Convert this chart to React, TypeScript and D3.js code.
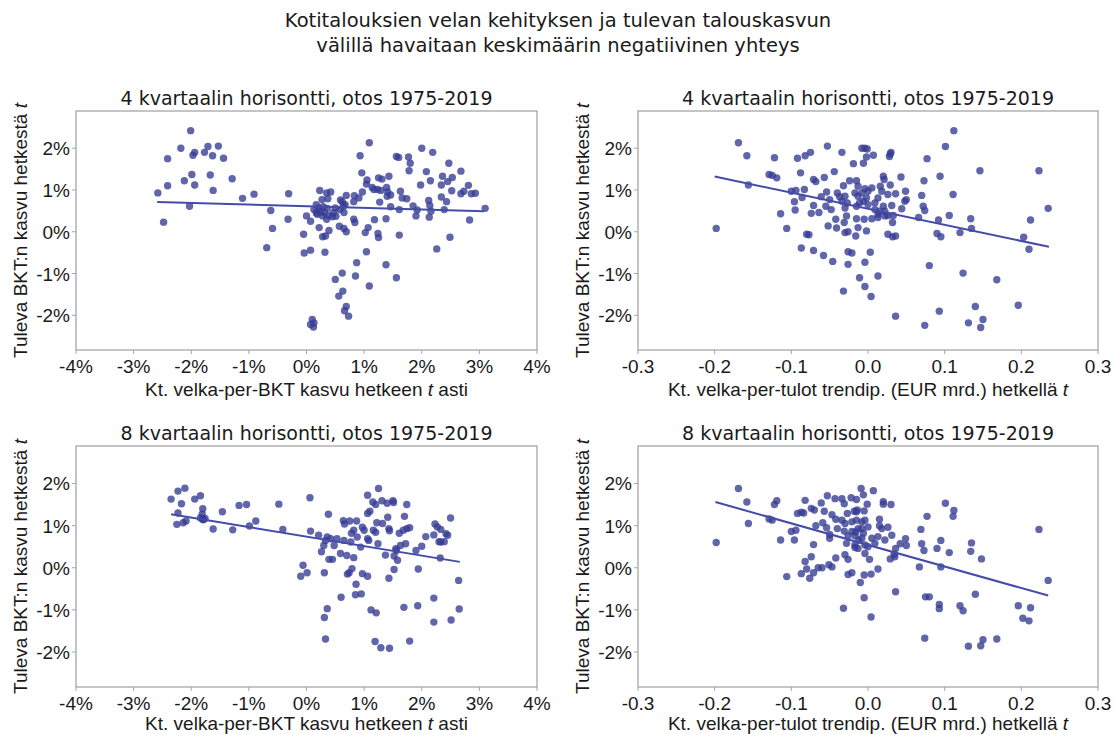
import React from "react";
import * as d3 from "d3";

// scatter points [x, y], y in percent
const debtGrowth4q: number[][] = [
  [-2.58,0.93],[-2.48,0.23],[-2.41,1.75],[-2.41,1.10],[-2.18,2.0],[-2.12,1.22],[-2.01,2.42],[-1.99,1.37],[-1.97,1.83],[-1.94,1.90],
  [-1.94,1.12],[-2.03,0.61],[-1.77,1.90],[-1.71,2.04],[-1.63,1.82],[-1.67,1.36],[-1.53,2.05],[-1.44,1.76],[-1.62,0.99],[-1.29,1.27],
  [-1.11,0.80],[-0.91,0.90],[-0.62,0.51],[-0.59,0.08],[-0.69,-0.38],[-0.31,0.91],[-0.32,0.30],[0.00,0.38],[-0.05,-0.06],[-0.04,-0.51],
  [1.09,2.13],[0.93,1.82],[1.56,1.80],[1.60,1.78],[1.77,1.79],[2.0,2.0],[2.19,1.90],[1.80,1.64],[1.78,1.46],[0.96,1.41],
  [2.47,1.64],[2.68,1.45],[2.08,1.44],[2.53,1.30],[2.45,1.20],[2.15,1.22],[2.36,1.33],[2.81,1.11],[2.34,1.12],[1.98,1.12],
  [2.52,0.98],[2.73,0.97],[2.68,0.91],[2.86,0.91],[2.93,0.92],[2.34,0.83],[2.43,0.72],[3.10,0.56],[2.83,0.28],[2.49,-0.13],[2.26,-0.41],
  [1.43,1.33],[1.31,1.26],[1.25,1.29],[1.05,1.24],[1.04,1.14],[1.14,1.06],[1.23,1.01],[1.29,0.99],[1.17,1.01],[1.39,1.06],
  [1.41,0.95],[1.46,0.88],[1.40,0.85],[1.63,0.97],[1.66,0.81],[1.74,0.79],[0.97,0.95],[0.91,0.81],[0.83,0.86],[0.82,0.72],
  [0.69,0.87],[0.59,0.76],[0.62,0.72],[1.27,0.71],[1.46,0.60],[1.61,0.53],[1.85,0.62],[1.92,0.52],[1.90,0.38],[2.12,0.75],
  [2.14,0.63],[2.16,0.49],[2.13,0.35],[2.39,0.53],[0.65,0.46],[0.51,0.37],[0.67,0.65],[0.82,0.30],[0.84,0.22],[1.18,0.29],
  [1.38,0.31],[0.57,0.13],[0.65,0.08],[0.69,0.0],[1.02,-0.02],[1.07,0.10],[1.24,-0.04],[1.25,-0.14],[1.61,-0.08],[1.04,-0.48],
  [0.87,-0.74],[1.38,-0.79],[0.62,-0.99],[0.50,-1.14],[0.85,-1.06],[1.56,-1.10],[1.09,-1.30],[0.63,-1.42],[0.56,-1.54],[0.69,-1.79],
  [0.66,-1.89],[0.73,-2.02],[0.10,-2.10],[0.13,-2.18],[0.07,-2.22],[0.12,-2.28],
  [0.07,-0.44],[0.32,-0.49],[0.07,0.25],[0.22,0.10],[0.33,-0.10],[0.28,-0.12],[0.39,0.03],
  [0.23,0.99],[0.35,0.93],[0.42,0.95],[0.27,0.77],[0.37,0.79],[0.17,0.65],[0.21,0.57],[0.29,0.60],[0.36,0.56],[0.24,0.49],
  [0.31,0.46],[0.19,0.42],[0.28,0.38],[0.39,0.39],[0.45,0.36],[0.35,0.30],[0.47,0.46],[0.50,0.57],[0.58,0.53],[0.64,0.61],
  [0.13,0.53],[0.17,0.45]
];

const debtToIncome4q: number[][] = [
  [-0.198,0.08],[-0.169,2.13],[-0.158,1.82],[-0.156,1.12],[-0.129,1.37],[-0.125,1.35],[-0.119,1.29],[-0.122,1.77],[-0.114,0.43],[-0.106,0.08],
  [-0.096,0.72],[-0.095,0.52],[-0.100,0.97],[-0.094,0.99],[-0.092,1.76],[-0.088,1.41],[-0.082,1.82],[-0.075,1.90],[-0.086,0.82],[-0.083,1.01],
  [-0.080,-0.06],[-0.077,-0.07],[-0.087,-0.39],[-0.074,0.44],[-0.071,0.63],[-0.071,-0.45],[-0.071,1.25],[-0.068,1.20],[-0.064,0.46],[-0.061,0.84],
  [-0.058,-0.57],[-0.057,1.30],[-0.055,0.61],[-0.053,2.05],[-0.054,0.95],[-0.052,0.14],[-0.050,0.77],[-0.048,0.53],[-0.046,-0.71],[-0.044,1.44],
  [-0.042,0.30],[-0.041,0.09],[-0.040,0.93],[-0.037,0.84],[-0.034,0.73],[-0.030,0.85],[-0.032,1.10],[-0.034,1.90],[-0.032,-1.42],[-0.030,0.57],
  [-0.027,0.69],[-0.028,0.38],[-0.031,0.22],[-0.030,-0.02],[-0.026,0.0],[-0.026,-0.48],[-0.021,-0.51],[-0.026,-0.78],[-0.024,1.22],[-0.019,1.63],
  [-0.017,0.93],[-0.013,1.09],
  [0.112,2.42],[0.101,2.04],[0.077,1.75],[0.146,1.46],[0.223,1.46],[0.094,1.33],[0.073,1.22],[0.043,1.31],[0.030,1.90],[0.028,1.80],
  [0.029,1.86],[-0.008,2.0],[-0.004,2.0],[-0.001,1.98],[-0.002,1.79],[0.007,1.83],[-0.006,1.64],[-0.015,1.22],[0.020,1.33],[0.021,1.25],
  [0.029,1.12],[0.016,1.09],[-0.004,1.03],[0.000,0.97],[0.005,1.05],[-0.008,0.93],[-0.013,0.85],[-0.002,0.81],[-0.006,0.73],[0.026,0.89],
  [0.036,0.91],[0.049,0.97],[0.050,0.77],[0.048,0.73],[0.013,0.81],[0.018,0.97],[0.009,0.69],[0.000,0.65],[-0.011,0.69],[-0.015,0.61],
  [0.020,0.61],[0.022,0.49],[0.031,0.63],[0.044,0.55],[0.070,0.87],[0.072,0.61],[0.074,0.51],[0.013,0.42],[0.022,0.38],[0.026,0.39],
  [0.033,0.39],[0.015,0.49],[0.009,0.53],[-0.015,0.31],[-0.005,0.30],[0.005,0.31],[0.013,0.34],[0.032,0.22],[0.066,0.34],[-0.013,0.10],
  [-0.002,0.02],[-0.016,-0.10],[0.026,-0.06],[0.032,-0.12],[0.036,-0.10],[0.092,0.28],[0.106,0.39],[0.111,0.89],[0.134,0.31],[0.135,0.08],
  [0.120,-0.02],[0.090,-0.04],[0.095,-0.12],[0.212,0.28],[0.235,0.56],[0.203,-0.13],[0.210,-0.42],[0.003,-0.49],[-0.004,-0.73],[-0.011,-1.10],
  [-0.004,-1.31],[0.004,-1.55],[0.013,-1.06],[0.080,-0.81],[0.124,-0.99],[0.168,-1.15],[0.196,-1.76],[0.140,-1.79],[0.150,-2.10],[0.147,-2.29],
  [0.131,-2.18],[0.093,-1.90],[0.074,-2.24],[0.036,-2.02]
];

const debtGrowth8q: number[][] = [
  [-2.35,1.63],[-2.23,1.82],[-2.11,1.89],[-2.17,1.52],[-2.23,1.30],[-2.25,1.03],[-2.14,1.07],[-2.09,1.11],[-1.94,1.63],[-1.84,1.71],
  [-1.80,1.40],[-1.81,1.27],[-1.84,1.18],[-1.80,1.15],[-1.76,1.17],[-1.79,1.14],[-1.62,0.92],[-1.46,1.33],[-1.28,0.90],[-1.17,1.48],
  [-1.04,1.50],[-0.99,0.99],[-0.88,1.11],[-0.48,1.51],[-0.41,0.91],
  [0.06,1.66],[1.25,1.88],[1.06,1.72],[1.15,1.56],[1.20,1.50],[1.31,1.59],[1.40,1.53],[1.50,1.59],[1.51,1.55],[1.74,1.50],
  [1.10,1.34],[1.06,1.29],[0.38,1.27],[1.41,1.20],[1.70,1.22],[2.50,1.18],[0.64,1.12],[0.75,1.11],[0.87,1.11],[0.66,1.04],
  [1.32,1.05],[1.22,1.07],[1.43,0.93],[1.44,0.88],[0.97,0.96],[1.00,0.89],[0.82,0.89],[0.78,0.82],[1.16,0.89],[1.20,0.84],
  [1.61,0.82],[1.68,0.89],[1.74,0.93],[1.79,0.95],[2.23,1.04],[2.27,0.97],[2.33,0.91],[2.42,0.81],[2.45,0.77],[2.07,0.74],
  [2.21,0.78],[2.33,0.61],[2.39,0.62],[2.30,0.62],[0.07,0.87],[0.21,0.77],[0.36,0.73],[0.33,0.65],[0.30,0.53],[0.42,0.69],
  [0.53,0.69],[0.65,0.65],[0.77,0.61],[0.88,0.73],[0.94,0.49],[0.48,0.53],[0.26,0.38],[1.08,0.65],[1.24,0.57],[1.06,0.69],
  [1.63,0.53],[1.55,0.45],[1.56,0.41],[1.72,0.57],[1.90,0.41],[2.00,0.51],[2.32,0.23],[0.39,0.20],[0.45,0.20],[0.59,0.34],
  [0.70,0.29],[0.82,0.24],[1.37,0.30],[1.52,0.28],[1.58,0.18],[-0.06,0.06],[0.01,-0.12],[-0.10,-0.20],[0.31,-0.12],[0.79,-0.02],
  [0.74,-0.12],[0.71,-0.15],[0.97,-0.14],[1.06,-0.20],[1.43,-0.25],[1.52,-0.04],[1.94,-0.03],[2.64,-0.30],[0.86,-0.39],[0.85,-0.64],
  [0.95,-0.62],[0.60,-0.70],[1.12,-1.00],[1.21,-1.07],[1.69,-0.94],[1.93,-0.90],[2.21,-0.72],[0.36,-0.97],[0.31,-1.18],[0.33,-1.69],
  [2.65,-0.98],[2.51,-1.24],[2.21,-1.29],[1.19,-1.75],[1.29,-1.90],[1.44,-1.91],[1.79,-1.74]
];

const debtToIncome8q: number[][] = [
  [-0.198,0.60],[-0.169,1.88],[-0.158,1.56],[-0.156,1.05],[-0.129,1.16],[-0.125,1.13],[-0.122,1.50],[-0.119,1.59],[-0.114,0.66],[-0.106,-0.21],
  [-0.096,0.66],[-0.100,0.86],[-0.094,0.89],[-0.092,1.29],[-0.087,-0.14],[-0.082,0.15],[-0.080,-0.03],[-0.076,-0.25],[-0.071,-0.12],[-0.074,0.26],
  [-0.071,0.55],[-0.082,1.60],[-0.087,1.32],[-0.084,1.30],[-0.074,1.41],[-0.070,1.37],[-0.068,1.00],[-0.065,0.0],[-0.060,0.0],[-0.051,0.07],
  [-0.047,0.02],[-0.061,1.54],[-0.057,1.34],[-0.059,1.07],[-0.053,1.71],[-0.047,1.26],[-0.043,1.64],[-0.034,1.64],[-0.031,1.52],[-0.022,1.66],
  [-0.054,0.95],[-0.050,0.79],[-0.050,0.70],[-0.042,1.15],[-0.040,0.93],[-0.034,1.13],[-0.030,1.05],[-0.027,1.29],[-0.018,1.34],[-0.014,1.37],
  [-0.031,0.87],[-0.026,0.76],[-0.028,0.58],[-0.021,0.86],[-0.017,0.76],[-0.012,0.66],[-0.017,0.48],[-0.006,0.82],[-0.021,1.09],[-0.008,1.09],
  [-0.042,0.23],[-0.030,0.31],[-0.026,0.20],[-0.026,-0.16],[-0.021,-0.12],[-0.032,-0.96],
  [-0.009,1.88],[0.007,1.83],[-0.006,1.73],[-0.015,1.62],[-0.001,1.51],[0.020,1.57],[0.020,1.51],[0.030,1.50],[-0.015,1.33],[-0.005,1.35],
  [0.101,1.53],[0.112,1.36],[0.111,1.22],[0.077,1.22],[0.223,0.91],[0.015,1.15],[0.018,0.93],[0.026,0.96],[0.015,1.00],[0.031,0.77],
  [-0.015,1.13],[-0.004,1.13],[0.000,0.97],[-0.008,0.93],[-0.013,0.93],[-0.016,0.85],[0.069,0.91],[0.049,0.69],[0.050,0.53],[0.042,0.57],
  [0.070,0.57],[0.073,0.41],[0.095,0.65],[0.090,0.46],[0.106,0.36],[0.135,0.59],[0.134,0.39],[0.148,0.21],[-0.008,0.70],[0.005,0.70],
  [0.013,0.74],[-0.004,0.54],[-0.017,0.54],[-0.013,0.46],[0.009,0.58],[0.022,0.66],[0.000,0.50],[0.036,0.46],[0.034,0.32],[0.029,0.21],
  [0.035,0.26],[-0.004,0.34],[0.002,0.20],[0.013,-0.03],[-0.005,-0.17],[0.004,-0.15],[-0.010,-0.35],[0.036,-0.57],[0.067,0.02],[0.095,0.02],
  [-0.005,-0.71],[0.004,-1.17],[0.075,-0.69],[0.080,-0.69],[0.093,-0.87],[0.093,-0.97],[0.120,-0.90],[0.124,-1.02],[0.140,-0.63],[0.196,-0.90],
  [0.212,-0.95],[0.202,-1.20],[0.210,-1.26],[0.235,-0.30],[0.074,-1.67],[0.131,-1.86],[0.147,-1.85],[0.150,-1.71],[0.168,-1.69]
];

// regression line end points
const fitGrowth4q = [[-2.59, 0.71], [3.08, 0.49]];
const fitIncome4q = [[-0.2, 1.32], [0.236, -0.36]];
const fitGrowth8q = [[-2.35, 1.27], [2.66, 0.14]];
const fitIncome8q = [[-0.199, 1.56], [0.235, -0.66]];

const growthTicks = [-4, -3, -2, -1, 0, 1, 2, 3, 4];
const incomeTicks = [-0.3, -0.2, -0.1, 0.0, 0.1, 0.2, 0.3];
const yTicks = [-2, -1, 0, 1, 2];

const titleLines = [
  "Kotitalouksien velan kehityksen ja tulevan talouskasvun",
  "välillä havaitaan keskimäärin negatiivinen yhteys",
];

const font = "'Liberation Sans', Arial, sans-serif";
const titleFont = "'DejaVu Sans', sans-serif";
const dotColor = "#353b94";
const lineColor = "#444ca8";
const spineColor = "#a6a6a6";

type PanelProps = {
  left: number; right: number; top: number; bottom: number; labelGap: number;
  xDomain: number[]; xTicks: number[]; xFmt: (v: number) => string;
  points: number[][]; fit: number[][];
  title: string; xLabel: React.ReactNode;
};

function Panel(p: PanelProps) {
  const x = d3.scaleLinear().domain(p.xDomain).range([p.left, p.right]);
  const y = d3.scaleLinear().domain([-2.83, 2.89]).range([p.bottom, p.top]);
  const line = d3.line<number[]>().x(d => x(d[0])).y(d => y(d[1]));
  const cx = (p.left + p.right) / 2;
  const cy = (p.top + p.bottom) / 2;
  return (
    <g fontFamily={font} fill="#1a1a1a">
      <text x={cx} y={p.top - 6} textAnchor="middle" fontSize={19} fontFamily={titleFont}>{p.title}</text>
      <rect x={p.left} y={p.top} width={p.right - p.left} height={p.bottom - p.top}
        fill="none" stroke={spineColor} strokeWidth={1.3} />
      {yTicks.map(t => (
        <g key={"y" + t}>
          <line x1={p.left - 4} x2={p.left} y1={y(t)} y2={y(t)} stroke={spineColor} />
          <text x={p.left - 6} y={y(t) + 7} textAnchor="end" fontSize={19}>{t + "%"}</text>
        </g>
      ))}
      {p.xTicks.map(t => (
        <g key={"x" + t}>
          <line x1={x(t)} x2={x(t)} y1={p.bottom} y2={p.bottom + 4} stroke={spineColor} />
          <text x={x(t)} y={p.bottom + 23} textAnchor="middle" fontSize={19}>{p.xFmt(t)}</text>
        </g>
      ))}
      <text x={cx} y={p.bottom + p.labelGap} textAnchor="middle" fontSize={19}>{p.xLabel}</text>
      <text transform={`translate(${p.left - 49},${cy}) rotate(-90)`} textAnchor="middle" fontSize={19}>
        Tuleva BKT:n kasvu hetkestä <tspan fontStyle="italic">t</tspan>
      </text>
      {p.points.map((d, i) => (
        <circle key={i} cx={x(d[0])} cy={y(d[1])} r={3.7} fill={dotColor} fillOpacity={0.78} />
      ))}
      <path d={line(p.fit) || ""} fill="none" stroke={lineColor} strokeWidth={2} />
    </g>
  );
}

export default function App() {
  const pct = (v: number) => v + "%";
  const dec = (v: number) => v.toFixed(1);
  const title = "4 kvartaalin horisontti, otos 1975-2019";
  const title8 = "8 kvartaalin horisontti, otos 1975-2019";
  const growthLabel = <>Kt. velka-per-BKT kasvu hetkeen <tspan fontStyle="italic">t</tspan> asti</>;
  const incomeLabel = <>Kt. velka-per-tulot trendip. (EUR mrd.) hetkellä <tspan fontStyle="italic">t</tspan></>;
  return (
    <svg width={1116} height={735} style={{ position: "absolute", left: 0, top: 0, background: "#fff" }}>
      {titleLines.map((t, i) => (
        <text key={i} x={558} y={27 + i * 25} textAnchor="middle" fontSize={19.5} fontFamily={titleFont} fill="#1a1a1a">{t}</text>
      ))}
      <Panel left={76} right={537} top={111} bottom={350} labelGap={46} xDomain={[-4, 4]} xTicks={growthTicks} xFmt={pct}
        points={debtGrowth4q} fit={fitGrowth4q} title={title} xLabel={growthLabel} />
      <Panel left={638} right={1098} top={111} bottom={350} labelGap={46} xDomain={[-0.3, 0.3]} xTicks={incomeTicks} xFmt={dec}
        points={debtToIncome4q} fit={fitIncome4q} title={title} xLabel={incomeLabel} />
      <Panel left={76} right={537} top={446} bottom={687} labelGap={43} xDomain={[-4, 4]} xTicks={growthTicks} xFmt={pct}
        points={debtGrowth8q} fit={fitGrowth8q} title={title8} xLabel={growthLabel} />
      <Panel left={638} right={1098} top={446} bottom={687} labelGap={43} xDomain={[-0.3, 0.3]} xTicks={incomeTicks} xFmt={dec}
        points={debtToIncome8q} fit={fitIncome8q} title={title8} xLabel={incomeLabel} />
    </svg>
  );
}
